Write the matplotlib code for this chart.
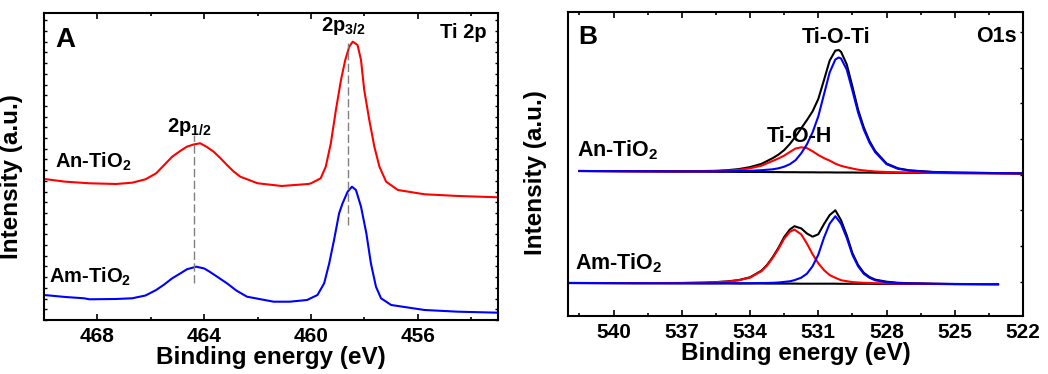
import matplotlib
matplotlib.use("Agg")
import matplotlib.pyplot as plt
from matplotlib.ticker import MultipleLocator, NullFormatter

plt.rcParams['font.family'] = ['Liberation Sans', 'DejaVu Sans']
plt.rcParams['font.weight'] = 'bold'
plt.rcParams['mathtext.default'] = 'regular'
plt.rcParams['axes.linewidth'] = 1.5

# ---------------- panel A : Ti 2p ----------------
ti_an_be = [470.0, 469.9, 469.2, 468.3, 467.3, 466.7, 466.2, 465.8, 465.5, 465.2,
            464.9, 464.65, 464.4, 464.15, 463.9, 463.65, 463.4, 463.15, 462.9, 462.65,
            462.0, 461.1, 460.1, 460.0, 459.64, 459.45, 459.26, 459.07, 458.88, 458.72,
            458.57, 458.44, 458.26, 458.13, 458.01, 457.82, 457.63, 457.44, 457.19,
            456.75, 455.75, 454.5, 453.0]
ti_an_int = [141, 140.7, 138.3, 136.7, 136, 137.3, 140.7, 146.7, 155, 163.3,
             169, 173.3, 175.5, 176.7, 173, 168.3, 162, 155, 148.5, 143.3,
             136.7, 134, 136, 136.7, 141.7, 153.3, 176.7, 210, 240, 260,
             273.3, 278.3, 275, 260, 230, 200, 173.3, 153.3, 138.3,
             130, 125.7, 124, 122.7]

ti_am_be = [470.0, 469.2, 468.5, 468.3, 467.3, 466.7, 466.2, 465.8, 465.5, 465.2,
            464.9, 464.65, 464.3, 464.0, 463.8, 463.5, 463.15, 462.8, 462.4, 461.4,
            460.8, 460.15, 459.76, 459.51, 459.32, 459.14, 458.95, 458.82, 458.63,
            458.47, 458.32, 458.13, 457.93, 457.76, 457.57, 457.38, 457.0, 455.75,
            454.5, 453.0]
ti_am_int = [25, 23, 21.7, 20.7, 21, 21.7, 24.5, 30, 35.5, 41.7,
             46.5, 50.7, 53.3, 51.5, 48.3, 43, 36.7, 29.5, 23.3, 18.3,
             18.3, 20, 25, 36.7, 56.7, 80, 106.7, 116.7, 128.3,
             133.3, 130, 113.3, 86.7, 56.7, 33.3, 21.7, 15, 10,
             8.3, 7.3]

ti_peaks = [464.4, 458.63]
ti_peak_labels = [r'2p$_{1/2}$', r'2p$_{3/2}$']
ti_dash_lo = [36.7, 95]
ti_dash_hi = [185, 276.7]
ti_label_y = [193, 294]

# ---------------- panel B : O 1s fits ----------------
o_an_be = [541.5, 539, 537, 536, 535.5, 535, 534.5, 534, 533.5, 533, 532.75, 532.5,
           532.25, 532, 531.75, 531.5, 531.25, 531, 530.75, 530.5, 530.25, 530.1, 530,
           529.75, 529.5, 529.25, 529, 528.75, 528.5, 528, 527.5, 527, 526, 525, 522]
o_an_bg = [145.0, 144.7, 144.4, 144.3, 144.2, 144.2, 144.1, 144.0, 144.0, 143.9, 143.9, 143.8,
           143.8, 143.8, 143.7, 143.7, 143.7, 143.6, 143.6, 143.6, 143.5, 143.5, 143.5,
           143.5, 143.5, 143.4, 143.4, 143.4, 143.3, 143.3, 143.2, 143.1, 143.0, 142.9, 142.5]
o_an_tioti = [145.0, 144.8, 144.6, 144.6, 144.6, 144.7, 144.9, 145.2, 145.8, 146.7, 147.7, 149.3,
              151.8, 155.8, 162.7, 171.7, 183.7, 199.6, 221.6, 243.6, 256.5, 258.5, 257.5,
              246.5, 225.5, 203.4, 186.4, 173.4, 163.8, 151.8, 147.2, 145.4, 144.0, 143.4, 142.6]
o_an_tioh = [145.0, 144.7, 144.6, 144.7, 144.8, 145.3, 146.1, 147.7, 150.3, 155.1, 157.6, 160.4,
             164.0, 167.5, 168.7, 167.9, 164.7, 161.0, 157.9, 155.4, 152.4, 151.0, 150.2,
             148.7, 147.5, 146.3, 145.6, 145.0, 144.5, 144.0, 143.7, 143.4, 143.1, 142.9, 142.5]
o_an_sum = [145.0, 144.8, 144.8, 145.0, 145.2, 145.8, 146.9, 148.9, 152.1, 157.9, 161.4, 165.9,
            172.0, 179.5, 187.7, 195.9, 204.7, 217.0, 235.9, 255.4, 265.4, 266.0, 264.2,
            251.7, 229.5, 206.3, 188.6, 175.0, 165.0, 152.5, 147.7, 145.7, 144.1, 143.4, 142.6]

o_am_be = [542, 539, 537, 536, 535.5, 535, 534.5, 534, 533.5, 533.25, 533, 532.75, 532.5,
           532.25, 532.05, 531.75, 531.5, 531.25, 531, 530.75, 530.5, 530.25, 530, 529.75,
           529.5, 529.25, 529, 528.75, 528.5, 528, 527.5, 527, 526, 525, 523.1]
o_am_bg = [33.0, 32.8, 32.7, 32.6, 32.6, 32.6, 32.5, 32.5, 32.5, 32.4, 32.4, 32.4, 32.4,
           32.4, 32.4, 32.3, 32.3, 32.3, 32.3, 32.3, 32.3, 32.3, 32.2, 32.2,
           32.2, 32.2, 32.2, 32.2, 32.1, 32.1, 32.1, 32.1, 32.0, 31.9, 31.8]
o_am_tioh = [33.0, 32.9, 33.0, 33.3, 33.8, 34.4, 35.7, 38.4, 44.8, 50.5, 58.2, 67.1, 77.2,
             84.2, 86.4, 81.6, 72.5, 61.8, 52.7, 45.9, 40.9, 38.2, 35.8, 34.8,
             33.9, 33.5, 33.2, 33.0, 32.8, 32.6, 32.4, 32.3, 32.1, 31.9, 31.8]
o_am_tioti = [33.0, 32.8, 32.7, 32.7, 32.7, 32.8, 32.7, 32.8, 33.0, 33.0, 33.2, 33.5, 34.1,
              34.7, 35.8, 38.3, 42.3, 49.8, 61.3, 78.3, 92.3, 99.8, 92.2, 78.2,
              61.2, 49.7, 42.2, 38.2, 35.7, 33.8, 32.9, 32.6, 32.2, 32.0, 31.8]
o_am_sum = [33.0, 32.9, 33.0, 33.4, 33.9, 34.6, 35.9, 38.7, 45.3, 51.1, 59.0, 68.2, 78.9,
            86.5, 89.8, 87.6, 82.5, 79.3, 81.7, 91.9, 100.9, 105.7, 95.8, 80.8,
            62.9, 51.0, 43.2, 39.0, 36.4, 34.3, 33.2, 32.8, 32.3, 32.0, 31.8]

samples = [r'An-TiO$_2$', r'Am-TiO$_2$']

fig = plt.figure(figsize=(10.48, 3.74), dpi=100)
axA = fig.add_axes([0.042, 0.1444, 0.4332, 0.8209])
axB = fig.add_axes([0.542, 0.1551, 0.4342, 0.8128])

# ---- A ----
axA.plot(ti_an_be, ti_an_int, color='#ff0000', lw=1.5)
axA.plot(ti_am_be, ti_am_int, color='#0000ff', lw=1.5)
for xp, lo, hi, lab, ly in zip(ti_peaks, ti_dash_lo, ti_dash_hi, ti_peak_labels, ti_label_y):
    axA.plot([xp, xp], [lo, hi], color='#808080', lw=1.0, ls=(0, (6, 2.5)))
    axA.text(xp + 0.15, ly, lab, ha='center', va='center', fontsize=14.5, fontweight='bold')
axA.set_xlim(470, 453)
axA.set_ylim(0, 307)
axA.xaxis.set_major_locator(MultipleLocator(4))
axA.xaxis.set_minor_locator(MultipleLocator(2))
axA.yaxis.set_major_locator(MultipleLocator(10.7))
axA.yaxis.set_major_formatter(NullFormatter())
axA.tick_params(axis='x', which='major', direction='in', top=True, length=4.5, width=1.2,
                labelsize=15, pad=5)
axA.tick_params(axis='x', which='minor', direction='in', top=True, length=2.5, width=1.2)
axA.tick_params(axis='y', which='major', direction='in', left=True, right=True, length=2, width=1)
axA.set_xlabel('Binding energy (eV)', fontsize=17.5, fontweight='bold', labelpad=0)
axA.set_ylabel('Intensity (a.u.)', fontsize=17.5, fontweight='bold')
axA.yaxis.set_label_coords(-0.046, 0.466)
axA.text(0.024, 0.912, 'A', transform=axA.transAxes, fontsize=20, fontweight='bold',
         ha='left', va='center')
axA.text(0.975, 0.938, 'Ti 2p', transform=axA.transAxes, fontsize=14.5, fontweight='bold',
         ha='right', va='center')
axA.text(0.024, 0.496, samples[0], transform=axA.transAxes, fontsize=14.5,
         fontweight='bold', ha='left', va='baseline')
axA.text(0.012, 0.1215, samples[1], transform=axA.transAxes, fontsize=14.5,
         fontweight='bold', ha='left', va='baseline')

# ---- B ----
for be, bg, tioh, tioti, tot in [(o_an_be, o_an_bg, o_an_tioh, o_an_tioti, o_an_sum),
                                 (o_am_be, o_am_bg, o_am_tioh, o_am_tioti, o_am_sum)]:
    axB.plot(be, bg, color='black', lw=1.5)
    axB.plot(be, tot, color='black', lw=1.5)
    axB.plot(be, tioh, color='#ff0000', lw=1.5)
    axB.plot(be, tioti, color='#0000ff', lw=1.5)
axB.set_xlim(542, 522)
axB.set_ylim(0, 304)
axB.set_xticks([540, 537, 534, 531, 528, 525, 522])
axB.xaxis.set_minor_locator(MultipleLocator(1.5))
axB.yaxis.set_major_locator(MultipleLocator(35.7, offset=34.3))
axB.yaxis.set_major_formatter(NullFormatter())
axB.tick_params(axis='x', which='major', direction='in', top=True, length=4.5, width=1.2,
                labelsize=15, pad=5)
axB.tick_params(axis='x', which='minor', direction='in', top=True, length=2.5, width=1.2)
axB.tick_params(axis='y', which='major', direction='in', left=False, right=True,
                length=2.5, width=1)
axB.set_xlabel('Binding energy (eV)', fontsize=17.5, fontweight='bold', labelpad=0)
axB.set_ylabel('Intensity (a.u.)', fontsize=17.5, fontweight='bold')
axB.yaxis.set_label_coords(-0.047, 0.472)
axB.text(0.023, 0.919, 'B', transform=axB.transAxes, fontsize=19, fontweight='bold',
         ha='left', va='center')
axB.text(0.986, 0.919, 'O1s', transform=axB.transAxes, fontsize=15.5, fontweight='bold',
         ha='right', va='center')
axB.text(530.22, 278.7, 'Ti-O-Ti', fontsize=15.5, fontweight='bold', ha='center', va='center')
axB.text(531.82, 179.3, 'Ti-O-H', fontsize=15.5, fontweight='bold', ha='center', va='center')
axB.text(0.0205, 0.524, samples[0], transform=axB.transAxes, fontsize=15.5,
         fontweight='bold', ha='left', va='baseline')
axB.text(0.0154, 0.1546, samples[1], transform=axB.transAxes, fontsize=15.5,
         fontweight='bold', ha='left', va='baseline')

for ax in (axA, axB):
    for lbl in ax.get_xticklabels():
        lbl.set_fontweight('bold')

fig.savefig('out.png', dpi=100)
